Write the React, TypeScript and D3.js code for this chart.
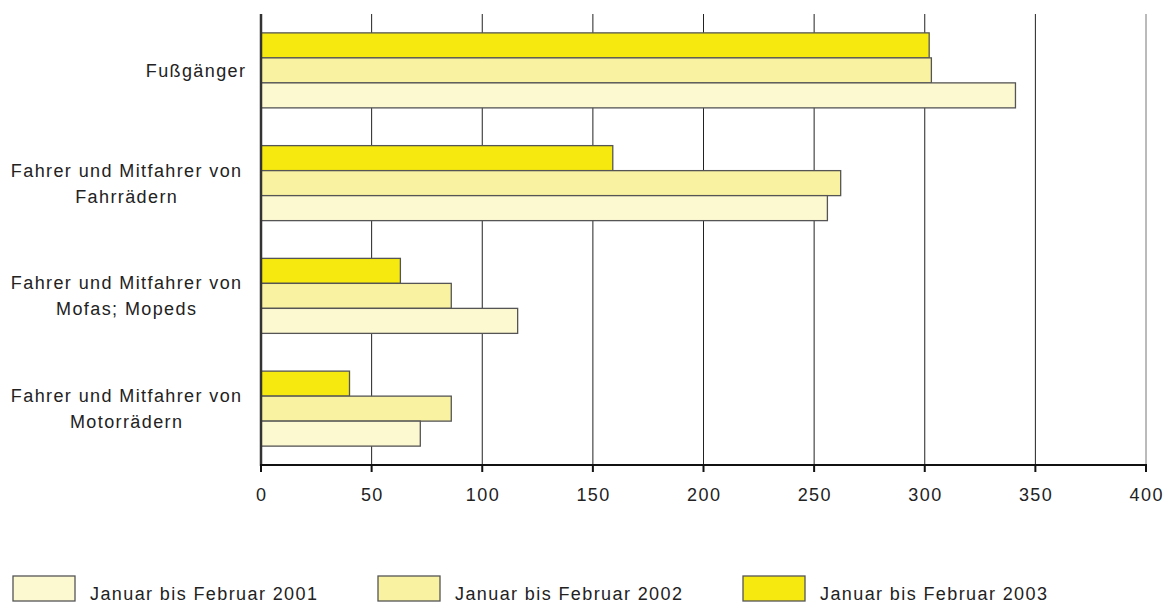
import React from "react";
import * as d3 from "d3";

const categories = [
  ["Fußgänger"],
  ["Fahrer und Mitfahrer von", "Fahrrädern"],
  ["Fahrer und Mitfahrer von", "Mofas; Mopeds"],
  ["Fahrer und Mitfahrer von", "Motorrädern"],
];
const series = ["Januar bis Februar 2003", "Januar bis Februar 2002", "Januar bis Februar 2001"];
const values2003 = [302, 159, 63, 40];
const values2002 = [303, 262, 86, 86];
const values2001 = [341, 256, 116, 72];
const ticks = [0, 50, 100, 150, 200, 250, 300, 350, 400];
const legendOrder = ["Januar bis Februar 2001", "Januar bis Februar 2002", "Januar bis Februar 2003"];

const colors: Record<string, string> = {
  "Januar bis Februar 2001": "#fcf8d0",
  "Januar bis Februar 2002": "#f9f2a0",
  "Januar bis Februar 2003": "#f5e90f",
};

const W = 1167, H = 603;
const left = 261, right = 1146, top = 14, bottom = 465;
const font = "'Liberation Sans', Arial, sans-serif";
const fs = 18;
const ls = 1.4;

export default function App() {
  const x = d3.scaleLinear().domain([0, 400]).range([left, right]);
  const y = d3.scaleBand<number>().domain(d3.range(categories.length)).range([top, bottom]);
  const inner = d3.scaleBand<string>().domain(series).range([0, 75]);
  const seriesValues = [values2003, values2002, values2001];
  return (
    <svg width={W} height={H} style={{ position: "absolute", left: 0, top: 0, background: "#fff" }} fontFamily={font}>
      {ticks.slice(1).map((t) => (
        <line key={t} x1={x(t)} x2={x(t)} y1={top} y2={bottom} stroke={t === 400 ? "#777" : "#222"} strokeWidth={1} />
      ))}
      {categories.map((c, i) => {
        const y0 = y(i)! + y.bandwidth() / 2 - 37.5;
        return series.map((s, j) => (
          <rect key={s + i} x={x(0)} y={y0 + inner(s)!} width={x(seriesValues[j][i]) - x(0)} height={inner.bandwidth()}
            fill={colors[s]} stroke="#555" strokeWidth={1.3} />
        ));
      })}
      <line x1={left} x2={left} y1={top} y2={bottom + 1} stroke="#333" strokeWidth={2.5} />
      <line x1={left - 1} x2={right + 1} y1={bottom} y2={bottom} stroke="#111" strokeWidth={2} />
      {ticks.map((t) => (
        <g key={t}>
          <line x1={x(t)} x2={x(t)} y1={bottom} y2={bottom + 7} stroke="#111" strokeWidth={2} />
          <text x={x(t) + ls / 2} y={501} textAnchor="middle" fontSize={fs} fill="#222" letterSpacing={ls}>{t}</text>
        </g>
      ))}
      {categories.map((c, i) => {
        const cy = y(i)! + y.bandwidth() / 2;
        if (c.length === 1) {
          return <text key={i} x={245 + ls} y={cy + 6.5} textAnchor="end" fontSize={fs} fill="#222" letterSpacing={ls}>{c[0]}</text>;
        }
        return c.map((line, k) => (
          <text key={i + "-" + k} x={126 + ls / 2} y={cy - 13 + k * 26 + 6.5} textAnchor="middle" fontSize={fs} fill="#222" letterSpacing={ls}>{line}</text>
        ));
      })}
      {legendOrder.map((s, i) => (
        <g key={s} transform={`translate(${13 + i * 365},576)`}>
          <rect x={0} y={0} width={62} height={25} fill={colors[s]} stroke="#555" strokeWidth={1.3} />
          <text x={77} y={24} fontSize={fs} fill="#222" letterSpacing={ls}>{s}</text>
        </g>
      ))}
    </svg>
  );
}
